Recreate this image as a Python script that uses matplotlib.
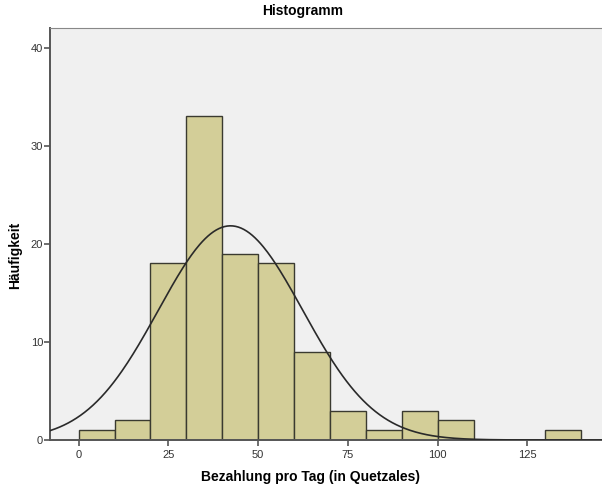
import numpy as np
import matplotlib.pyplot as plt

# ============================================================
# DATA
# ============================================================

bin_edges = [0, 10, 20, 30, 40, 50, 60, 70, 80, 90, 100, 110, 120, 130, 140]
counts = [1, 2, 18, 33, 19, 18, 9, 3, 1, 3, 2, 0, 0, 1]

# normal curve parameters (as SPSS draws it)
curve_mean = 42.3
curve_sd = 20.1
n_total = sum(counts)

x_ticks = [0, 25, 50, 75, 100, 125]
y_ticks = [0, 10, 20, 30, 40]

title = "Histogramm"
x_label = "Bezahlung pro Tag (in Quetzales)"
y_label = "Häufigkeit"

# ============================================================
# PLOT
# ============================================================

plt.rcParams["font.family"] = ["Liberation Sans", "DejaVu Sans"]

fig = plt.figure(figsize=(6.02, 4.86), dpi=100)
ax = fig.add_axes([50 / 602, 46 / 486, 552 / 602, 412 / 486])
ax.set_facecolor("#f0f0f0")

lefts = bin_edges[:-1]
widths = np.diff(bin_edges)
ax.bar(lefts, counts, width=widths, align="edge",
       color="#d3ce98", edgecolor="#3a3a30", linewidth=1.0, zorder=2)

bin_w = widths[0]
xs = np.linspace(-8, 146, 400)
ys = n_total * bin_w / (curve_sd * np.sqrt(2 * np.pi)) * np.exp(-0.5 * ((xs - curve_mean) / curve_sd) ** 2)
ax.plot(xs, ys, color="#2a2a2a", linewidth=1.2, zorder=3)

ax.set_xlim(-8, 145.8)
ax.set_ylim(0, 42)
ax.set_xticks(x_ticks)
ax.set_yticks(y_ticks)

ax.spines["top"].set_color("#888888")
ax.spines["top"].set_linewidth(0.8)
ax.spines["right"].set_visible(False)
ax.spines["left"].set_color("#555555")
ax.spines["left"].set_linewidth(1.4)
ax.spines["bottom"].set_color("#555555")
ax.spines["bottom"].set_linewidth(1.4)

ax.tick_params(axis="both", direction="out", length=4, width=1.2,
               color="#555555", labelsize=8, labelcolor="#333333")
ax.tick_params(axis="x", pad=3)
ax.tick_params(axis="y", pad=1)

fig.text(0.502, 0.978, title, ha="center", va="center", fontsize=10, fontweight="bold")
fig.text(0.515, 0.018, x_label, ha="center", va="center", fontsize=10, fontweight="bold")
fig.text(0.025, 0.475, y_label, ha="center", va="center", rotation=90, fontsize=10, fontweight="bold")

plt.savefig("out.png", dpi=100)
plt.close()
